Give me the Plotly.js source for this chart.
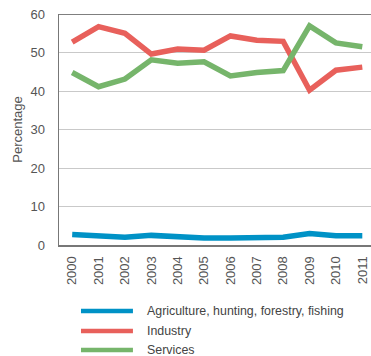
<!DOCTYPE html>
<html><head><meta charset="utf-8">
<script src="https://cdn.plot.ly/plotly-3.0.1.min.js"></script>
<style>html,body{margin:0;padding:0;background:#fff}</style>
</head><body><div id="chart" style="width:371px;height:356px"></div>
<script>
const years = ['2000','2001','2002','2003','2004','2005','2006','2007','2008','2009','2010','2011'];
const agriculture = [2.7, 2.2, 2.0, 2.5, 2.0, 1.8, 1.8, 2.0, 2.0, 3.0, 2.4, 2.4];
const industry = [52.7, 56.7, 55.0, 49.6, 50.9, 50.6, 54.3, 53.2, 52.9, 40.2, 45.4, 46.2];
const services = [44.8, 41.1, 43.1, 48.1, 47.2, 47.6, 43.9, 44.8, 45.3, 56.9, 52.5, 51.5];
const names = ['Agriculture, hunting, forestry, fishing', 'Industry', 'Services'];
const colors = ['#0092c6', '#e8605b', '#76b56b'];
const series = [agriculture, industry, services];

const traces = series.map((s, i) => ({
  x: years, y: s, name: names[i], type: 'scatter', mode: 'lines',
  line: {color: colors[i], width: 5.5}, showlegend: false
}));

// Custom legend below the plot (paper coordinates)
const legendY = [-0.2857, -0.3723, -0.4545];
const legendShapes = names.map((n, i) => ({
  type: 'line', xref: 'paper', yref: 'paper', x0: 0.0705, x1: 0.237,
  y0: legendY[i], y1: legendY[i], line: {color: colors[i], width: 4.5}
}));
const legendAnn = names.map((n, i) => ({
  xref: 'paper', yref: 'paper', x: 0.2756, y: legendY[i], xanchor: 'left', yanchor: 'middle',
  text: n, showarrow: false, font: {size: 12.4, color: '#444'}
}));

const layout = {
  width: 371, height: 356,
  margin: {l: 59, r: 0, t: 14, b: 111},
  paper_bgcolor: '#fff', plot_bgcolor: '#fff',
  font: {family: 'Liberation Sans, Arial, sans-serif', color: '#555', size: 13},
  showlegend: false,
  xaxis: {
    type: 'category', range: [-0.5, 11.33], tickangle: -90,
    showgrid: false, showline: true, linecolor: '#777', linewidth: 2,
    ticks: 'outside', ticklen: 4, tickcolor: 'rgba(0,0,0,0)',
    tickfont: {size: 13, color: '#555'}, zeroline: false, fixedrange: true,
    automargin: false
  },
  yaxis: {
    range: [0, 60], tickvals: [0, 10, 20, 30, 40, 50, 60],
    showgrid: true, gridcolor: '#c9c9c9', gridwidth: 1,
    showline: true, linecolor: '#777', linewidth: 1.5,
    ticks: 'outside', ticklen: 10, tickcolor: 'rgba(0,0,0,0)',
    tickfont: {size: 13, color: '#555'}, zeroline: false, automargin: false,
    title: {text: 'Percentage', font: {size: 13, color: '#555'}, standoff: 5}
  },
  shapes: [{type: 'line', xref: 'paper', yref: 'y', x0: 0, x1: 1, y0: 60, y1: 60,
            line: {color: '#555', width: 1.5}}].concat(legendShapes),
  annotations: legendAnn
};
Plotly.newPlot('chart', traces, layout, {displayModeBar: false, staticPlot: true});
</script></body></html>
